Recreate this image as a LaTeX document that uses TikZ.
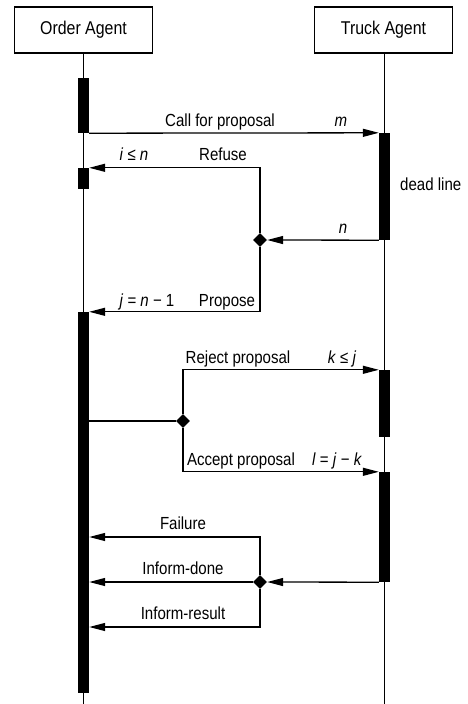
\documentclass[tikz,border=0pt]{standalone}
\usepackage{fontspec}
\setmainfont{Liberation Sans}[FakeStretch=0.86]
\usetikzlibrary{arrows.meta,shapes.geometric}
\begin{document}
\begin{tikzpicture}[x=1pt,y=-1pt,
  agent/.style={draw, line width=1.2pt, minimum width=138pt, minimum height=46pt, inner sep=0, font=\fontsize{18.5}{20}\selectfont},
  life/.style={line width=1.2pt},
  act/.style={fill=black, draw=none, minimum width=11pt, inner sep=0},
  msg/.style={line width=1.3pt, -{Triangle[length=16pt,width=8pt]}},
  wire/.style={line width=1.3pt},
  choice/.style={diamond, fill=black, minimum size=14pt, inner sep=0},
  lbl/.style={font=\fontsize{17.5}{19}\selectfont, inner sep=0, anchor=base}]
\useasboundingbox (0,0) rectangle (467,704);
% agents
\node[agent] (order) at (83.5,30) {Order Agent};
\node[agent] (truck) at (383.5,30) {Truck Agent};
\coordinate (oend) at (83.5,704);
\coordinate (tend) at (384.5,704);
\draw[life] (order.south) -- (oend);
\draw[life] (truck.south -| tend) -- (tend);
% activation bars
\node[act, minimum height=55pt] (oa1) at (83.5,105.5) {};
\node[act, minimum height=21pt] (oa2) at (83.5,178.5) {};
\node[act, minimum height=381pt] (oa3) at (83.5,502.5) {};
\node[act, minimum height=107pt] (ta1) at (384.5,186.5) {};
\node[act, minimum height=67pt] (ta2) at (384.5,403.5) {};
\node[act, minimum height=110pt] (ta3) at (384.5,527) {};
% choice points
\node[choice] (d1) at (260,240) {};
\node[choice] (d2) at (183,421) {};
\node[choice] (d3) at (260,582) {};
\coordinate (fail) at (260,537);
\coordinate (res) at (260,627);
% messages
\draw[msg] (oa1.south east) -- (ta1.north west);
\draw[msg] (ta1.south west) -- (d1.east);
\draw[msg] (d1.north) |- (oa2.north east);
\draw[msg] (d1.south) |- (oa3.north east);
\draw[wire] (oa3.east |- d2) -- (d2.west);
\draw[msg] (d2.north) |- (ta2.north west);
\draw[msg] (d2.south) |- (ta3.north west);
\draw[msg] (ta3.south west) -- (d3.east);
\draw[msg] (d3.west) -- (oa3.east |- d3);
\draw[msg] (d3.north) -- (fail) -- (oa3.east |- fail);
\draw[msg] (d3.south) -- (res) -- (oa3.east |- res);
% labels
\node[lbl] (l1) at (220,126) {Call for proposal};
\node[lbl] (l2) at (341,126) {\textit{m}};
\node[lbl] (l3) at (134,160) {\textit{i} ≤ \textit{n}};
\node[lbl] (l4) at (223,160) {Refuse};
\node[lbl] (l5) at (343,233) {\textit{n}};
\node[lbl] (l6) at (147,306) {\textit{j} = \textit{n} − 1};
\node[lbl] (l7) at (227,306) {Propose};
\node[lbl] (l8) at (238,363) {Reject proposal};
\node[lbl] (l9) at (342,363) {\textit{k} ≤ \textit{j}};
\node[lbl] (l10) at (241,465) {Accept proposal};
\node[lbl] (l11) at (337,465) {\textit{l} = \textit{j} − \textit{k}};
\node[lbl] (l12) at (183,529) {Failure};
\node[lbl] (l13) at (183,574) {Inform-done};
\node[lbl] (l14) at (183,619) {Inform-result};
\node[lbl, anchor=base west] (l15) at (400,190) {dead line};
\end{tikzpicture}
\end{document}
